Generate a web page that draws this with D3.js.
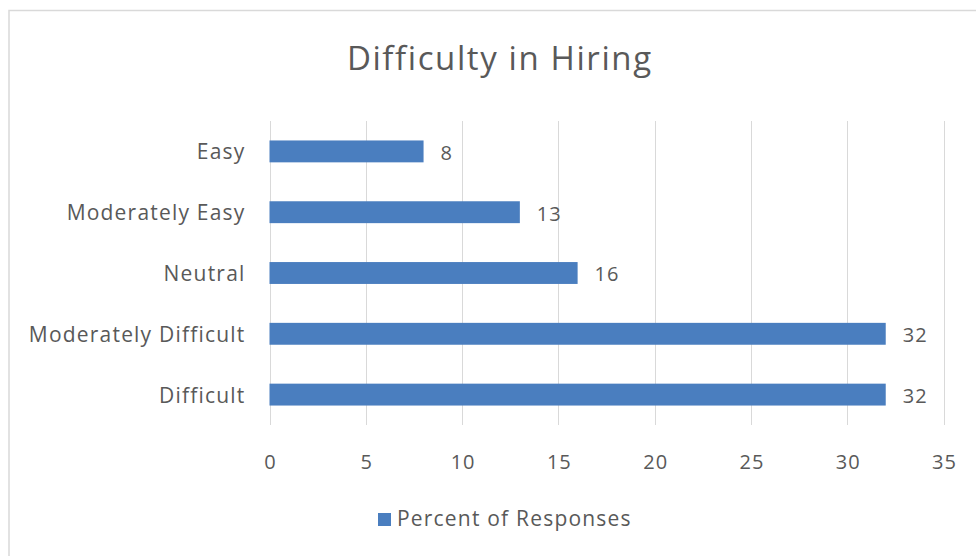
<!DOCTYPE html>
<html>
<head>
<meta charset="utf-8">
<script src="https://cdn.jsdelivr.net/npm/d3@7"></script>
<style>
  html, body { margin: 0; padding: 0; background: #fff; }
  svg { display: block; }
  text { font-family: "Open Sans", sans-serif; fill: #595959; }
</style>
</head>
<body>
<svg id="chart" width="976" height="556"></svg>
<script>
const title = "Difficulty in Hiring";
const categories = ["Easy", "Moderately Easy", "Neutral", "Moderately Difficult", "Difficult"];
const values = [8, 13, 16, 32, 32];
const seriesName = "Percent of Responses";
const xTicks = [0, 5, 10, 15, 20, 25, 30, 35];

const svg = d3.select("#chart");
const barColor = "#4a7ebf";
const font = "'Open Sans', sans-serif";

// outer frame
svg.append("rect")
  .attr("x", 9).attr("y", 10.5)
  .attr("width", 990).attr("height", 600)
  .attr("fill", "none").attr("stroke", "#d9d9d9").attr("stroke-width", 1.5);

const plot = { left: 269.5, right: 943.5, top: 121, bottom: 425 };

const x = d3.scaleLinear().domain([0, 35]).range([plot.left, plot.right]);
const y = d3.scaleBand().domain(categories).range([plot.top, plot.bottom]).paddingInner(0.64).paddingOuter(0.32);

// title
svg.append("text")
  .attr("x", 499 + 0.8).attr("y", 70)
  .attr("text-anchor", "middle")
  .style("font-size", "33px")
  .style("letter-spacing", "1.6px")
  .text(title);

// gridlines
svg.append("g").selectAll("line").data(xTicks).join("line")
  .attr("x1", d => Math.round(x(d)) + 0.5).attr("x2", d => Math.round(x(d)) + 0.5)
  .attr("y1", plot.top).attr("y2", plot.bottom)
  .attr("stroke", "#d9d9d9").attr("stroke-width", 1);

// x axis labels
const xAxis = d3.axisBottom(x).tickValues(xTicks).tickSize(0).tickPadding(0);
const gx = svg.append("g").attr("transform", `translate(0, 469)`).call(xAxis);
gx.select(".domain").remove();
gx.selectAll("text").attr("y", 0).attr("dy", 0).attr("dx", "0.5px")
  .style("font-size", "20px").style("letter-spacing", "1px")
  .style("font-family", font).attr("fill", "#595959");

// y axis labels
const yAxis = d3.axisLeft(y).tickSize(0).tickPadding(24);
const gy = svg.append("g").attr("transform", `translate(${plot.left}, 0)`).call(yAxis);
gy.select(".domain").remove();
gy.selectAll("text").attr("dy", "0.38em")
  .style("font-size", "21px").style("letter-spacing", "1.2px")
  .style("font-family", font).attr("fill", "#595959");

// bars
svg.append("g").selectAll("rect").data(categories).join("rect")
  .attr("x", x(0))
  .attr("y", d => y(d))
  .attr("width", (d, i) => x(values[i]) - x(0))
  .attr("height", y.bandwidth())
  .attr("fill", barColor);

// value labels
svg.append("g").selectAll("text").data(categories).join("text")
  .attr("x", (d, i) => x(values[i]) + 17)
  .attr("y", d => y(d) + y.bandwidth() / 2)
  .attr("dy", "0.42em")
  .style("font-size", "20px")
  .style("letter-spacing", "1px")
  .text((d, i) => values[i]);

// legend
const lg = svg.append("g").attr("transform", "translate(378, 513)");
lg.append("rect").attr("x", 0).attr("y", 0).attr("width", 13).attr("height", 13).attr("fill", barColor);
lg.append("text").attr("x", 19).attr("y", 13)
  .style("font-size", "21px").style("letter-spacing", "1.2px").text(seriesName);
</script>
</body>
</html>
